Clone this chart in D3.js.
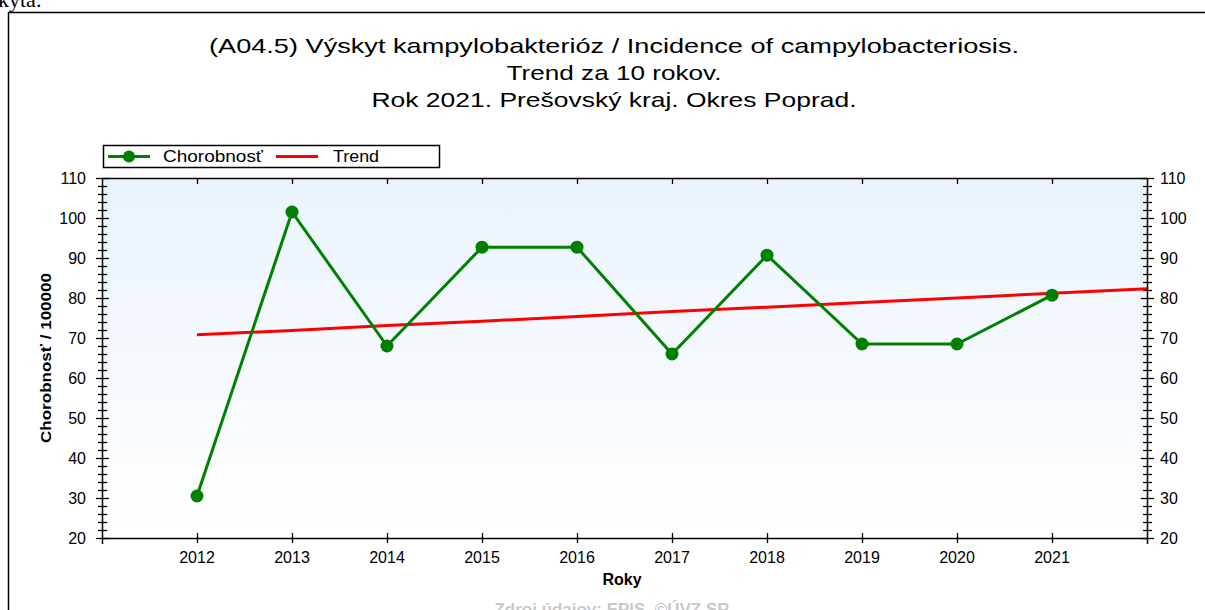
<!DOCTYPE html>
<html>
<head>
<meta charset="utf-8">
<script src="https://cdn.jsdelivr.net/npm/d3@7"></script>
<style>
  html, body { margin: 0; padding: 0; background: #fff; }
  svg { display: block; }
</style>
</head>
<body>
<svg id="chart" width="1205" height="610"></svg>
<script>
const years = [2012, 2013, 2014, 2015, 2016, 2017, 2018, 2019, 2020, 2021];
const incidence = [30.5, 101.5, 68.0, 92.7, 92.7, 66.0, 90.7, 68.5, 68.5, 80.7];
const trendYears = [2012, 2013, 2014, 2015, 2016, 2017, 2018, 2019, 2020, 2021, 2022];
const trendValues = [70.8, 71.9, 73.1, 74.2, 75.4, 76.6, 77.7, 78.9, 80.0, 81.2, 82.3];
const yTicks = [20, 30, 40, 50, 60, 70, 80, 90, 100, 110];
const titleLines = [
  "(A04.5) Výskyt kampylobakterióz / Incidence of campylobacteriosis.",
  "Trend za 10 rokov.",
  "Rok 2021. Prešovský kraj. Okres Poprad."
];
const titleWidths = [810, 215, 485];
const seriesNames = ["Chorobnosť", "Trend"];

const svg = d3.select("#chart");
const FONT = "Liberation Sans, Arial, sans-serif";

// outer frame (top + left edges visible)
svg.append("text").attr("x", -2).attr("y", 7)
  .attr("font-family", "Liberation Serif, Times New Roman, serif")
  .attr("font-size", 22).attr("fill", "#000").text("kyta.");
svg.append("line").attr("x1", 8).attr("x2", 1205).attr("y1", 12.5).attr("y2", 12.5)
  .attr("stroke", "#000").attr("stroke-width", 1.5);
svg.append("line").attr("x1", 8.5).attr("x2", 8.5).attr("y1", 12).attr("y2", 610)
  .attr("stroke", "#000").attr("stroke-width", 1.5);

const L = 102, R = 1147, T = 178, B = 538;
const x = d3.scaleLinear().domain([2011, 2022]).range([L, R]);
const y = d3.scaleLinear().domain([20, 110]).range([B, T]);

// background gradient
const defs = svg.append("defs");
const grad = defs.append("linearGradient").attr("id", "bg").attr("x1", 0).attr("x2", 0).attr("y1", 0).attr("y2", 1);
grad.append("stop").attr("offset", "0%").attr("stop-color", "#eaf3fd");
grad.append("stop").attr("offset", "100%").attr("stop-color", "#ffffff");
svg.append("rect").attr("x", L).attr("y", T).attr("width", R - L).attr("height", B - T).attr("fill", "url(#bg)");

// title
svg.append("g").selectAll("text").data(titleLines).join("text")
  .attr("x", 614).attr("y", (d, i) => 53 + i * 27)
  .attr("text-anchor", "middle").attr("font-family", FONT).attr("font-size", 21)
  .attr("textLength", (d, i) => titleWidths[i]).attr("lengthAdjust", "spacingAndGlyphs")
  .attr("fill", "#000").text(d => d);

// axes
const minorTicks = d3.range(20, 110.01, 2);
function yAxis(g, side) {
  const x0 = side === "left" ? L : R;
  g.append("line").attr("x1", x0 + 0.5).attr("x2", x0 + 0.5).attr("y1", T).attr("y2", B + 6)
    .attr("stroke", "#000").attr("stroke-width", 1.5);
  g.selectAll("line.minor").data(minorTicks.filter(v => v % 10 !== 0)).join("line").attr("class", "minor")
    .attr("x1", x0 - 4).attr("x2", x0 + 5).attr("y1", d => Math.round(y(d)) + 0.5).attr("y2", d => Math.round(y(d)) + 0.5)
    .attr("stroke", "#000").attr("stroke-width", 1.3);
  g.selectAll("line.major").data(yTicks).join("line").attr("class", "major")
    .attr("x1", x0 - 6).attr("x2", x0 + 7).attr("y1", d => Math.round(y(d)) + 0.5).attr("y2", d => Math.round(y(d)) + 0.5)
    .attr("stroke", "#000").attr("stroke-width", 1.3);
  g.selectAll("text").data(yTicks).join("text")
    .attr("x", side === "left" ? x0 - 16 : x0 + 13).attr("y", d => y(d) + 6)
    .attr("text-anchor", side === "left" ? "end" : "start")
    .attr("font-family", FONT).attr("font-size", 16).attr("fill", "#000").text(d => d);
}
yAxis(svg.append("g"), "left");
yAxis(svg.append("g"), "right");

// bottom x axis
svg.append("line").attr("x1", L).attr("x2", R).attr("y1", B + 0.5).attr("y2", B + 0.5)
  .attr("stroke", "#000").attr("stroke-width", 1.5);
svg.append("g").selectAll("line").data(years).join("line")
  .attr("x1", d => Math.round(x(d)) + 0.5).attr("x2", d => Math.round(x(d)) + 0.5)
  .attr("y1", B - 5).attr("y2", B + 5).attr("stroke", "#000").attr("stroke-width", 1.3);
svg.append("g").selectAll("text").data(years).join("text")
  .attr("x", d => x(d)).attr("y", B + 25).attr("text-anchor", "middle")
  .attr("font-family", FONT).attr("font-size", 16).attr("fill", "#000").text(d => d);
// top x axis
svg.append("line").attr("x1", L).attr("x2", R).attr("y1", T + 0.5).attr("y2", T + 0.5)
  .attr("stroke", "#000").attr("stroke-width", 1.5);
svg.append("g").selectAll("line").data(years).join("line")
  .attr("x1", d => Math.round(x(d)) + 0.5).attr("x2", d => Math.round(x(d)) + 0.5)
  .attr("y1", T).attr("y2", T + 6).attr("stroke", "#000").attr("stroke-width", 1.3);

// axis titles
svg.append("text").attr("x", 622).attr("y", 585).attr("text-anchor", "middle")
  .attr("font-family", FONT).attr("font-size", 16).attr("font-weight", "bold").attr("fill", "#000").text("Roky");
svg.append("text").attr("transform", "translate(51,358) rotate(-90)").attr("text-anchor", "middle")
  .attr("font-family", FONT).attr("font-size", 15).attr("font-weight", "bold").attr("fill", "#000")
  .attr("textLength", 170).attr("lengthAdjust", "spacingAndGlyphs")
  .text("Chorobnosť / 100000");

// source footnote
svg.append("text").attr("x", 612).attr("y", 615).attr("text-anchor", "middle")
  .attr("font-family", FONT).attr("font-size", 16).attr("font-weight", "bold").attr("fill", "#c8c8c8")
  .attr("textLength", 235).attr("lengthAdjust", "spacingAndGlyphs")
  .text("Zdroj údajov: EPIS, ©ÚVZ SR");

// trend line
svg.append("path").datum(trendYears.map((d, i) => [d, trendValues[i]]))
  .attr("d", d3.line().x(d => x(d[0])).y(d => y(d[1])))
  .attr("fill", "none").attr("stroke", "#ff0000").attr("stroke-width", 3);

// incidence line
svg.append("path").datum(years.map((d, i) => [d, incidence[i]]))
  .attr("d", d3.line().x(d => x(d[0])).y(d => y(d[1])))
  .attr("fill", "none").attr("stroke", "#008000").attr("stroke-width", 3);
svg.append("g").selectAll("circle").data(years).join("circle")
  .attr("cx", d => x(d)).attr("cy", (d, i) => y(incidence[i])).attr("r", 6.5).attr("fill", "#008000");

// legend
const lg = svg.append("g");
lg.append("rect").attr("x", 103.5).attr("y", 145.5).attr("width", 336).attr("height", 22)
  .attr("fill", "#fff").attr("stroke", "#000").attr("stroke-width", 1.5);
lg.append("line").attr("x1", 108).attr("x2", 150).attr("y1", 156.5).attr("y2", 156.5).attr("stroke", "#008000").attr("stroke-width", 3);
lg.append("circle").attr("cx", 129).attr("cy", 156.5).attr("r", 6).attr("fill", "#008000");
lg.append("text").attr("x", 163).attr("y", 162).attr("font-family", FONT).attr("font-size", 16)
  .attr("textLength", 100).attr("lengthAdjust", "spacingAndGlyphs").attr("fill", "#000").text(seriesNames[0]);
lg.append("line").attr("x1", 276).attr("x2", 318).attr("y1", 156.5).attr("y2", 156.5).attr("stroke", "#ff0000").attr("stroke-width", 3);
lg.append("text").attr("x", 333).attr("y", 162).attr("font-family", FONT).attr("font-size", 16)
  .attr("textLength", 46).attr("lengthAdjust", "spacingAndGlyphs").attr("fill", "#000").text(seriesNames[1]);
</script>
</body>
</html>
